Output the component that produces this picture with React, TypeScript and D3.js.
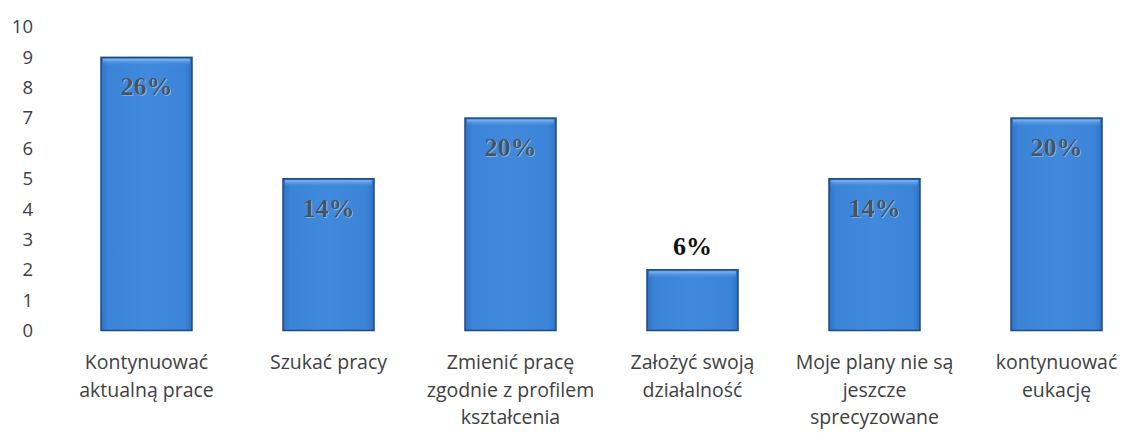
import React, { useEffect, useRef } from "react";
import * as d3 from "d3";

const categories = [
  "Kontynuować|aktualną prace",
  "Szukać pracy",
  "Zmienić pracę|zgodnie z profilem|kształcenia",
  "Założyć swoją|działalność",
  "Moje plany nie są|jeszcze|sprecyzowane",
  "kontynuować|eukację",
];
const counts = [9, 5, 7, 2, 5, 7];
const percentLabels = ["26%", "14%", "20%", "6%", "14%", "20%"];
const yTicks = [0, 1, 2, 3, 4, 5, 6, 7, 8, 9, 10];

const W = 1124;
const H = 433;

export default function App() {
  const ref = useRef<SVGSVGElement>(null);

  useEffect(() => {
    const svg = d3.select(ref.current);
    svg.selectAll("*").remove();

    const x = d3
      .scaleBand<number>()
      .domain(d3.range(categories.length))
      .range([55.5, 1147.5])
      .paddingInner(0.5)
      .paddingOuter(0.25);

    const y = d3.scaleLinear().domain([0, 10]).range([330.5, 27]);

    const defs = svg.append("defs");
    const grad = defs
      .append("linearGradient")
      .attr("id", "barFill")
      .attr("x1", 0)
      .attr("x2", 1)
      .attr("y1", 0)
      .attr("y2", 0);
    grad.append("stop").attr("offset", "0%").attr("stop-color", "#2f72c4");
    grad.append("stop").attr("offset", "8%").attr("stop-color", "#3b84d8");
    grad.append("stop").attr("offset", "50%").attr("stop-color", "#4089dc");
    grad.append("stop").attr("offset", "92%").attr("stop-color", "#3b84d8");
    grad.append("stop").attr("offset", "100%").attr("stop-color", "#2f72c4");

    const bevel = defs
      .append("linearGradient")
      .attr("id", "bevel")
      .attr("x1", 0)
      .attr("x2", 0)
      .attr("y1", 0)
      .attr("y2", 1);
    bevel.append("stop").attr("offset", "0%").attr("stop-color", "#8cc0f2").attr("stop-opacity", 0.9);
    bevel.append("stop").attr("offset", "100%").attr("stop-color", "#3f88db").attr("stop-opacity", 0);

    const shadow = defs.append("filter").attr("id", "emboss");
    shadow
      .append("feDropShadow")
      .attr("dx", 0.8)
      .attr("dy", 0.8)
      .attr("stdDeviation", 0.3)
      .attr("flood-color", "#9fc6ee")
      .attr("flood-opacity", 0.8);

    // y axis, labels only
    const yAxis = svg
      .append("g")
      .attr("transform", "translate(33,0)")
      .call(d3.axisLeft(y).tickValues(yTicks).tickSize(0).tickPadding(0));
    yAxis.select(".domain").remove();
    yAxis
      .selectAll("text")
      .attr("font-family", "'Open Sans', sans-serif")
      .attr("font-size", 18.5)
      .attr("fill", "#404040");

    // bars
    const bars = svg.append("g");
    counts.forEach((v, i) => {
      const bx = x(i)!;
      const by = y(v);
      const bh = y(0) - y(v);
      bars
        .append("rect")
        .attr("x", bx)
        .attr("y", by)
        .attr("width", x.bandwidth())
        .attr("height", bh)
        .attr("fill", "url(#barFill)")
        .attr("stroke", "#1d4a82")
        .attr("stroke-width", 1.5);
      bars
        .append("rect")
        .attr("x", bx + 2)
        .attr("y", by + 1.5)
        .attr("width", x.bandwidth() - 4)
        .attr("height", 7)
        .attr("fill", "url(#bevel)");
    });

    // percent labels
    const labels = svg.append("g");
    percentLabels.forEach((t, i) => {
      const cx = x(i)! + x.bandwidth() / 2;
      const inside = counts[i] > 3;
      labels
        .append("text")
        .attr("x", cx)
        .attr("y", inside ? y(counts[i]) + 38 : y(counts[i]) - 15)
        .attr("text-anchor", "middle")
        .attr("font-family", "'Liberation Serif', 'Times New Roman', serif")
        .attr("font-weight", "bold")
        .attr("font-size", 26)
        .attr("fill", inside ? "#47525e" : "#111")
        .attr("filter", inside ? "url(#emboss)" : null)
        .text(t);
    });

    // category labels
    const cats = svg.append("g");
    categories.forEach((c, i) => {
      const cx = x(i)! + x.bandwidth() / 2;
      const txt = cats
        .append("text")
        .attr("text-anchor", "middle")
        .attr("font-family", "'Open Sans', sans-serif")
        .attr("font-size", 19.5)
        .attr("fill", "#404040");
      c.split("|").forEach((line, k) => {
        txt
          .append("tspan")
          .attr("x", cx)
          .attr("y", 369 + k * 27.5)
          .text(line);
      });
    });
  }, []);

  return (
    <div style={{ position: "absolute", left: 0, top: 0 }}>
      <svg ref={ref} width={W} height={H} style={{ display: "block", background: "#fff" }} />
    </div>
  );
}
